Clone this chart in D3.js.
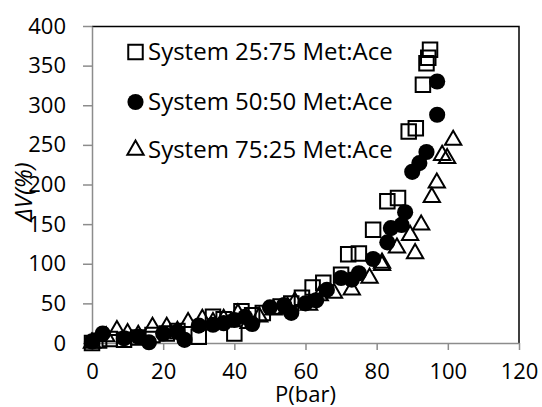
<!DOCTYPE html>
<html>
<head>
<meta charset="utf-8">
<script src="https://cdn.jsdelivr.net/npm/d3@7"></script>
<style>
  body { margin: 0; background: #fff; }
  text { font-family: "Open Sans", "Liberation Sans", sans-serif; fill: #000; }
</style>
</head>
<body>
<div class="chart"></div>
<script>
// series 25:75 (hollow squares)
var p25 = [0, 2, 5, 9, 13, 17, 21, 24, 30, 34, 37, 40, 42, 45, 48, 53, 56, 59, 62, 65, 70, 72, 75, 79, 83, 86, 89, 91, 93, 94, 94.5, 95];
var v25 = [0, 3, 5, 4, 7, 10, 12, 15, 8, 33, 30, 12, 40, 35, 38, 46, 50, 57, 70, 76, 86, 112, 113, 143, 179, 183, 267, 271, 326, 353, 360, 370];

// series 50:50 (filled circles)
var p50 = [0, 3, 9, 13, 16, 20, 24, 26, 30, 34, 37, 40, 43, 45, 50, 54, 56, 60, 63, 66, 70, 73, 75, 79, 83, 84, 87, 88, 90, 92, 94, 97, 97];
var v50 = [2, 12, 6, 8, 1, 12, 14, 4, 22, 23, 25, 29, 33, 24, 45, 48, 38, 50, 54, 67, 82, 80, 88, 106, 127, 145, 149, 165, 216, 227, 241, 288, 330];

// series 75:25 (hollow triangles)
var p75 = [0, 4, 7, 10, 13, 17, 21, 24, 27, 31, 34, 37, 41, 44, 47, 51, 55, 57, 61, 64, 68, 73, 78, 81.5, 81.5, 85.7, 89.4, 90.8, 92.5, 95.5, 96.9, 98.4, 99.8, 101.5];
var v75 = [0, 8, 16, 12, 10, 20, 20, 15, 26, 30, 26, 30, 37, 25, 33, 42, 45, 52, 48, 60, 63, 67, 82, 98, 101, 120, 136, 113, 149, 184, 202, 237, 233, 256];

var legendLabels = ["System 25:75 Met:Ace", "System 50:50 Met:Ace", "System 75:25 Met:Ace"];
var xTicks = [0, 20, 40, 60, 80, 100, 120];
var yTicks = [0, 50, 100, 150, 200, 250, 300, 350, 400];

var margin = {top: 26, right: 23, bottom: 64, left: 92};
var width = 542 - margin.left - margin.right;
var height = 407 - margin.top - margin.bottom;

var xScale = d3.scaleLinear().domain([0, 120]).range([0, width]);
var yScale = d3.scaleLinear().domain([0, 400]).range([height, 0]);

var svg = d3.select(".chart")
    .append("svg")
    .attr("width", 542)
    .attr("height", 407)
    .style("display", "block")
    .append("g")
    .attr("transform", "translate(" + margin.left + "," + margin.top + ")");

// plot area border (top / right black)
svg.append("path")
    .attr("d", "M0,0.5H" + width + "V" + height)
    .attr("fill", "none")
    .attr("stroke", "#000")
    .attr("stroke-width", 1.5);

var xAxis = svg.append("g")
    .attr("transform", "translate(0," + height + ")")
    .call(d3.axisBottom(xScale).tickValues(xTicks).tickSize(7).tickPadding(13).tickSizeOuter(0));

var yAxis = svg.append("g")
    .call(d3.axisLeft(yScale).tickValues(yTicks).tickSize(9).tickPadding(17).tickSizeOuter(0));

[xAxis, yAxis].forEach(function(a) {
    a.select(".domain").attr("stroke", "#8c8c8c").attr("stroke-width", 1.5);
    a.selectAll(".tick line").attr("stroke", "#8c8c8c").attr("stroke-width", 1.5);
    a.selectAll(".tick text")
        .style("font-family", "'Open Sans', sans-serif")
        .style("font-size", "22px")
        .attr("fill", "#000");
});

// markers
var sq = d3.symbol().type(d3.symbolSquare).size(210);
var ci = d3.symbol().type(d3.symbolCircle).size(205);
var tr = d3.symbol().type(d3.symbolTriangle).size(115);

function drawSeries(ps, vs, sym, filled) {
    svg.append("g").selectAll("path")
        .data(ps.map(function(p, i) { return [p, vs[i]]; }))
        .enter().append("path")
        .attr("d", sym)
        .attr("transform", function(d) {
            return "translate(" + xScale(d[0]) + "," + yScale(d[1]) + ")";
        })
        .attr("fill", filled ? "#000" : "none")
        .attr("stroke", "#000")
        .attr("stroke-width", filled ? 0 : 2);
}

drawSeries(p25, v25, sq, false);
drawSeries(p50, v50, ci, true);
drawSeries(p75, v75, tr, false);

// legend
var legendY = [26, 76, 124];
var syms = [sq, ci, tr];
legendLabels.forEach(function(lbl, i) {
    var g = svg.append("g").attr("transform", "translate(43.5," + legendY[i] + ")");
    g.append("path")
        .attr("d", syms[i])
        .attr("fill", i == 1 ? "#000" : "none")
        .attr("stroke", "#000")
        .attr("stroke-width", i == 1 ? 0 : 2);
    g.append("text")
        .attr("x", 12.5)
        .attr("y", 8)
        .style("font-size", "24px")
        .text(lbl);
});

// axis titles
svg.append("text")
    .attr("x", width / 2)
    .attr("y", height + 59)
    .attr("text-anchor", "middle")
    .style("font-size", "22px")
    .text("P(bar)");

svg.append("text")
    .attr("transform", "translate(-68," + (192 - margin.top) + ") rotate(-90)")
    .attr("text-anchor", "middle")
    .attr("dy", "0.35em")
    .style("font-size", "24px")
    .style("font-style", "italic")
    .text("ΔV(%)");
</script>
</body>
</html>
